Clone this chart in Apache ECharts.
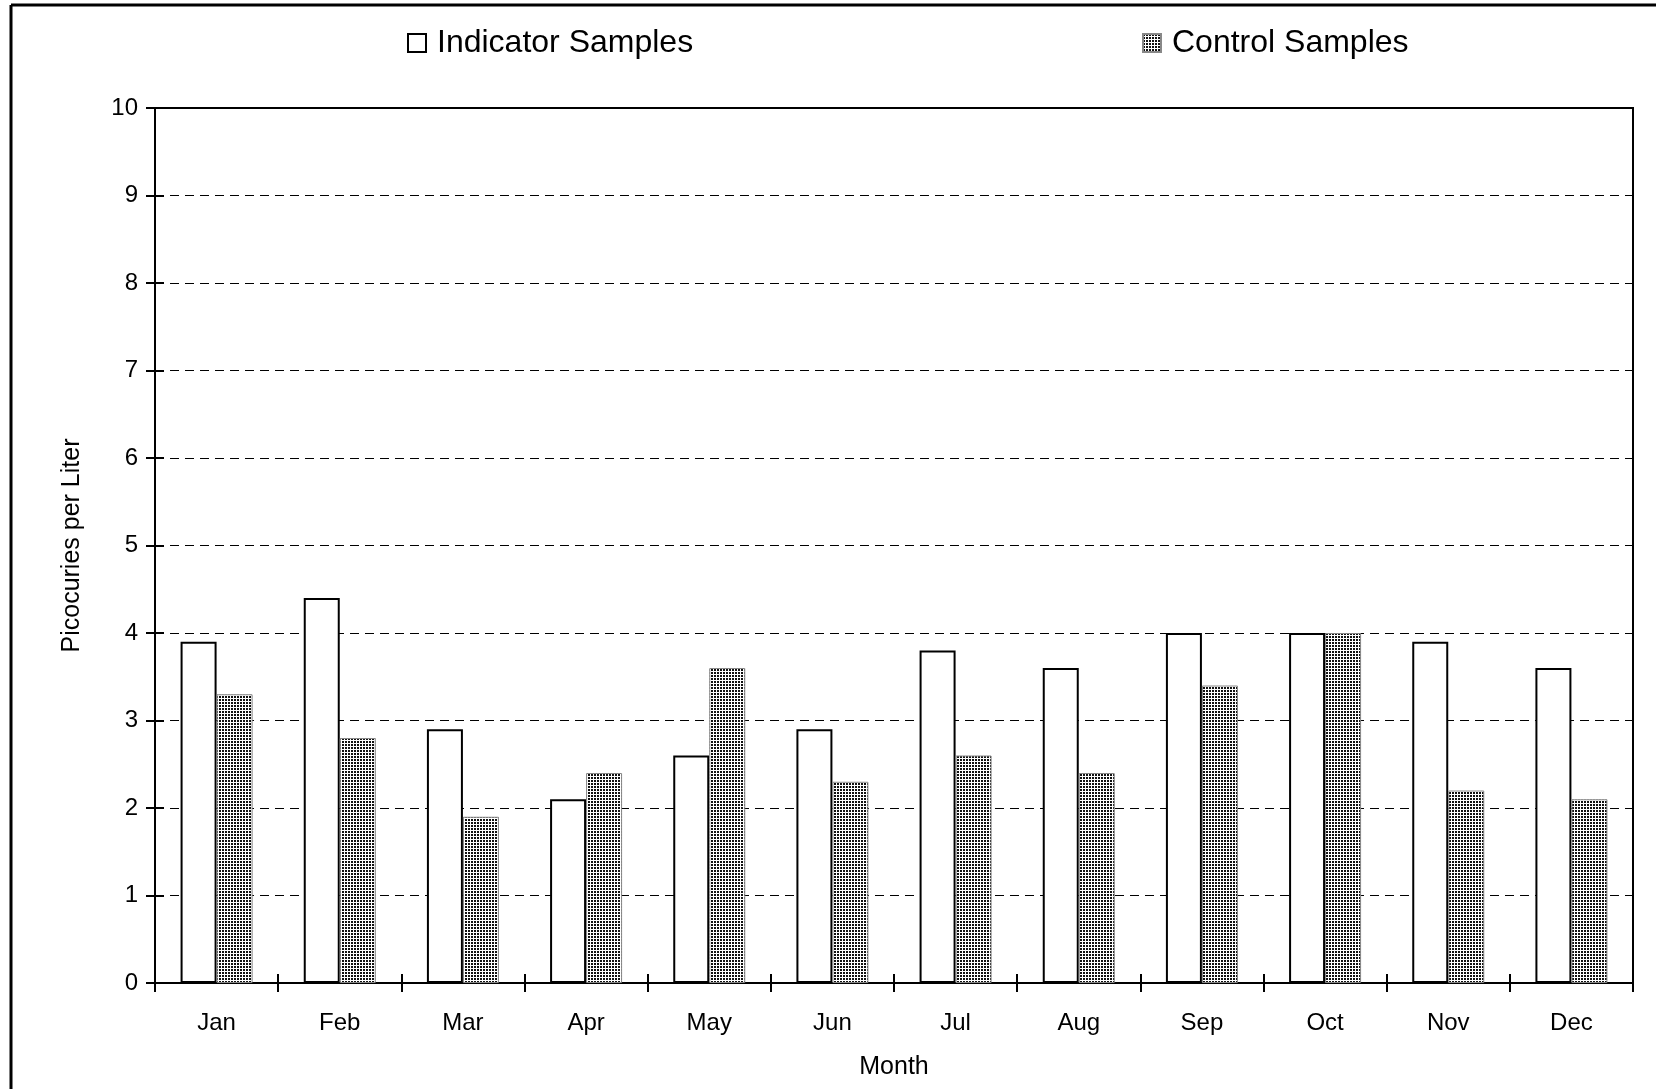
<!DOCTYPE html>
<html>
<head>
<meta charset="utf-8">
<script src="https://cdn.jsdelivr.net/npm/echarts@6/dist/echarts.min.js"></script>
<style>
  html, body { margin: 0; padding: 0; background: #fff; }
  #chart { width: 1656px; height: 1089px; }
</style>
</head>
<body>
<div id="chart"></div>
<script>
var months = ['Jan', 'Feb', 'Mar', 'Apr', 'May', 'Jun', 'Jul', 'Aug', 'Sep', 'Oct', 'Nov', 'Dec'];
var indicator = [3.9, 4.4, 2.9, 2.1, 2.6, 2.9, 3.8, 3.6, 4.0, 4.0, 3.9, 3.6];
var control = [3.3, 2.8, 1.9, 2.4, 3.6, 2.3, 2.6, 2.4, 3.4, 4.0, 2.2, 2.1];
var yTicks = [0, 1, 2, 3, 4, 5, 6, 7, 8, 9, 10];

// plot area
var gLeft = 155, gRight = 23, gTop = 108, gBottom = 106;
var gW = 1656 - gLeft - gRight;
var gH = 1089 - gTop - gBottom;

// dotted fill for the control bars
function dots() {
    var c = document.createElement('canvas');
    c.width = 3;
    c.height = 3;
    var ctx = c.getContext('2d');
    ctx.fillStyle = '#fff';
    ctx.fillRect(0, 0, 3, 3);
    ctx.fillStyle = '#111';
    ctx.fillRect(0, 0, 2, 2);
    return c;
}
var dotFill = {image: dots(), repeat: 'repeat'};

var font = 'Arial, "Liberation Sans", sans-serif';
var lineBlack = {color: '#000', width: 2};

var option = {
    animation: false,
    backgroundColor: '#fff',
    textStyle: {fontFamily: font, color: '#000'},
    legend: [{
        left: 402,
        top: 22,
        icon: 'rect',
        itemWidth: 18,
        itemHeight: 18,
        data: ['Indicator Samples'],
        textStyle: {fontSize: 32, color: '#000', fontFamily: font, padding: [0, 0, 0, 6]}
    }, {
        left: 1137,
        top: 22,
        icon: 'rect',
        itemWidth: 18,
        itemHeight: 18,
        data: ['Control Samples'],
        textStyle: {fontSize: 32, color: '#000', fontFamily: font, padding: [0, 0, 0, 6]}
    }],
    grid: {
        left: gLeft,
        right: gRight,
        top: gTop,
        bottom: gBottom,
        show: true,
        borderColor: '#000',
        borderWidth: 2,
        backgroundColor: 'transparent'
    },
    xAxis: [{
        type: 'category',
        data: months,
        position: 'bottom',
        name: 'Month',
        nameLocation: 'middle',
        nameGap: 72,
        nameTextStyle: {fontSize: 25, color: '#000', fontFamily: font},
        axisLine: {lineStyle: lineBlack},
        axisTick: {show: true, length: 9, lineStyle: lineBlack},
        axisLabel: {fontSize: 24, color: '#000', margin: 28, fontFamily: font}
    }, {
        // upper half of the crossing ticks: a top axis pulled down onto the bottom edge
        type: 'category',
        data: months,
        position: 'top',
        offset: -gH,
        axisLine: {show: true, lineStyle: lineBlack},
        axisTick: {show: true, length: 9, lineStyle: lineBlack},
        axisLabel: {show: false}
    }],
    yAxis: [{
        type: 'value',
        position: 'left',
        min: yTicks[0],
        max: yTicks[yTicks.length - 1],
        interval: 1,
        name: 'Picocuries per Liter',
        nameLocation: 'middle',
        nameGap: 70,
        nameTextStyle: {fontSize: 25, color: '#000', fontFamily: font},
        axisLine: {show: true, lineStyle: lineBlack},
        axisTick: {show: true, length: 9, lineStyle: lineBlack},
        axisLabel: {fontSize: 24, color: '#000', margin: 17, fontFamily: font},
        splitLine: {show: true, lineStyle: {color: '#000', width: 1, type: [9, 6]}}
    }, {
        // right half of the crossing ticks: a right axis pulled onto the left edge
        type: 'value',
        position: 'right',
        offset: -gW,
        min: yTicks[0],
        max: yTicks[yTicks.length - 1],
        interval: 1,
        axisLine: {show: true, lineStyle: lineBlack},
        axisTick: {show: true, length: 9, lineStyle: lineBlack},
        axisLabel: {show: false},
        splitLine: {show: false}
    }],
    series: [{
        name: 'Indicator Samples',
        type: 'bar',
        data: indicator,
        barWidth: 36,
        barGap: '0%',
        itemStyle: {color: '#fff', borderColor: '#000', borderWidth: 2}
    }, {
        name: 'Control Samples',
        type: 'bar',
        data: control,
        barWidth: 36,
        barGap: '0%',
        itemStyle: {color: dotFill, borderColor: '#888', borderWidth: 1}
    }],
    graphic: [{
        type: 'line',
        shape: {x1: 11, y1: 5, x2: 1656, y2: 5},
        style: {stroke: '#000', lineWidth: 3}
    }, {
        type: 'line',
        shape: {x1: 11, y1: 5, x2: 11, y2: 1089},
        style: {stroke: '#000', lineWidth: 3}
    }]
};

var chart = echarts.init(document.getElementById('chart'));
chart.setOption(option);
window.addEventListener('resize', function () {
    chart.resize();
});
</script>
</body>
</html>
